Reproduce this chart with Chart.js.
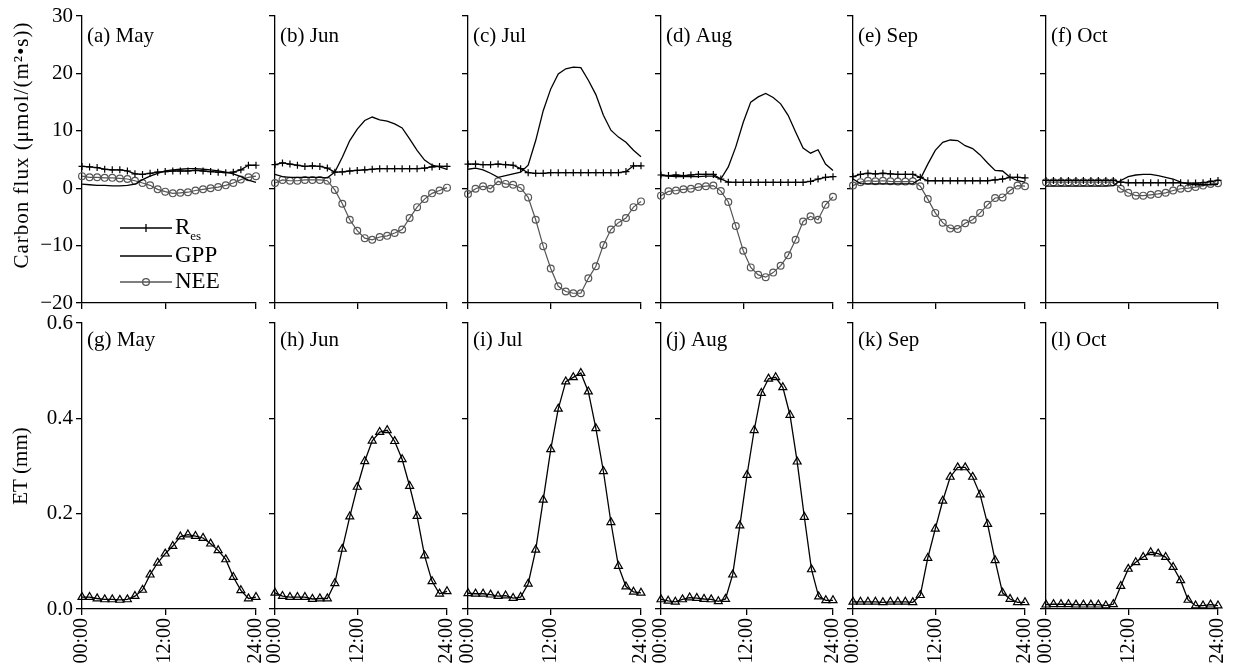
<!DOCTYPE html>
<html>
<head>
<meta charset="utf-8">
<script src="https://cdn.jsdelivr.net/npm/chart.js@4/dist/chart.umd.min.js"></script>
<style>
  html, body { margin: 0; padding: 0; background: #fff; }
  #wrap { position: relative; width: 1233px; height: 667px; overflow: hidden; }
  #wrap canvas { position: absolute; }
</style>
</head>
<body>
<div id="wrap"></div>
<script>
const FONT = "'Liberation Serif', 'Times New Roman', serif";

// x positions and axis labels
const hours24 = [0,1,2,3,4,5,6,7,8,9,10,11,12,13,14,15,16,17,18,19,20,21,22,23];
const hours25 = [0,1,2,3,4,5,6,7,8,9,10,11,12,13,14,15,16,17,18,19,20,21,22,23,24];
const timeTicks = ['00:00', '12:00', '24:00'];
const carbonTicks = [-20, -10, 0, 10, 20, 30];
const etTicks = [0, 0.2, 0.4, 0.6];
const months = ['May', 'Jun', 'Jul', 'Aug', 'Sep', 'Oct'];
const carbonLetters = ['a', 'b', 'c', 'd', 'e', 'f'];
const etLetters = ['g', 'h', 'i', 'j', 'k', 'l'];

// carbon flux, umol/(m2 s)
const resMay = [3.8,3.7,3.6,3.3,3.2,3.2,3.0,2.5,2.4,2.6,2.8,2.9,3.0,3.0,3.0,3.1,3.0,2.9,2.8,2.7,2.8,3.2,4.0,4.0];
const gppMay = [0.7,0.6,0.5,0.5,0.4,0.4,0.5,0.7,1.5,2.1,2.6,3.0,3.2,3.3,3.4,3.4,3.3,3.2,3.0,2.8,2.5,2.0,1.4,1.0];
const neeMay = [2.1,1.9,1.9,1.8,1.8,1.7,1.6,1.3,0.9,0.5,-0.2,-0.6,-0.9,-0.8,-0.7,-0.4,-0.2,0.0,0.2,0.5,0.9,1.5,1.9,2.1];

const resJun = [4.1,4.4,4.2,4.0,3.8,3.9,3.8,3.5,2.8,2.85,3.0,3.1,3.2,3.3,3.4,3.4,3.4,3.4,3.4,3.4,3.5,3.7,3.8,3.8];
const gppJun = [2.4,2.0,1.9,1.9,1.9,1.9,1.9,1.8,2.8,5.4,8.3,10.3,11.8,12.4,11.9,11.7,11.2,10.5,8.6,6.6,4.9,4.0,3.7,3.3];
const neeJun = [0.9,1.45,1.3,1.3,1.45,1.45,1.45,1.3,-0.3,-2.7,-5.5,-7.4,-8.7,-9.0,-8.5,-8.3,-7.8,-7.2,-5.2,-3.3,-1.9,-0.9,-0.4,0.1];

const resJul = [4.2,4.2,4.1,4.1,4.2,4.1,4.0,3.4,2.7,2.6,2.6,2.7,2.7,2.7,2.7,2.7,2.7,2.7,2.7,2.7,2.7,2.9,3.9,3.9];
const gppJul = [3.3,3.5,3.2,2.6,1.9,2.2,2.5,2.8,4.0,8.3,13.5,17.3,19.9,20.8,21.1,21.0,18.8,16.3,12.7,10.1,8.9,8.0,6.6,5.5];
const neeJul = [-1.0,-0.1,0.35,-0.1,1.2,0.75,0.6,0.05,-1.6,-5.5,-10.1,-14.0,-17.1,-18.0,-18.3,-18.3,-15.7,-13.6,-9.9,-7.2,-6.0,-5.2,-3.3,-2.3];

const resAug = [2.3,2.2,2.3,2.2,2.3,2.4,2.4,2.4,1.6,1.05,1.0,1.0,1.0,1.0,1.0,1.0,1.0,1.0,1.0,1.0,1.2,1.6,1.9,2.0];
const gppAug = [2.2,2.1,2.0,2.0,2.0,2.0,2.1,2.1,1.6,3.7,7.2,11.5,15.0,15.9,16.5,15.8,14.7,12.7,9.8,7.0,6.1,6.7,4.2,3.1];
const neeAug = [-1.3,-0.55,-0.4,-0.2,-0.1,0.2,0.35,0.45,-0.5,-2.4,-6.6,-10.9,-13.8,-15.1,-15.5,-14.7,-13.5,-11.7,-9.0,-5.8,-4.9,-5.5,-2.9,-1.5];

const resSep = [2.0,2.4,2.6,2.5,2.6,2.5,2.4,2.4,2.4,1.9,1.3,1.3,1.3,1.3,1.3,1.3,1.3,1.3,1.3,1.45,1.6,1.9,1.9,1.8];
const gppSep = [1.6,0.8,0.75,0.75,0.75,0.75,0.75,0.75,0.8,1.6,4.2,6.6,8.0,8.4,8.3,7.4,6.9,5.8,4.4,3.1,3.0,1.9,1.3,1.05];
const neeSep = [0.45,1.05,1.3,1.2,1.3,1.2,1.15,1.15,1.2,0.35,-1.9,-4.3,-6.0,-7.0,-7.1,-6.1,-5.5,-4.3,-2.9,-1.7,-1.6,-0.4,0.45,0.35];

const resOct = [1.35,1.35,1.35,1.35,1.35,1.35,1.35,1.35,1.35,1.35,1.05,0.95,0.95,0.95,0.95,0.95,0.95,0.95,0.95,0.9,0.9,0.95,1.15,1.35];
const gppOct = [0.35,0.35,0.35,0.35,0.35,0.35,0.35,0.35,0.35,0.45,1.35,2.0,2.3,2.4,2.4,2.2,1.9,1.6,1.05,0.75,0.6,0.6,0.6,0.65];
const neeOct = [1.05,1.05,1.05,1.05,1.05,1.05,1.05,1.05,1.05,1.05,-0.1,-0.8,-1.3,-1.3,-1.15,-1.0,-0.8,-0.4,-0.1,0.0,0.2,0.45,0.75,0.85];

// ET, mm (Aug has one point more)
const etMay = [0.025,0.025,0.022,0.02,0.02,0.019,0.02,0.027,0.04,0.072,0.097,0.116,0.132,0.152,0.156,0.153,0.149,0.137,0.123,0.104,0.067,0.039,0.022,0.025];
const etJun = [0.034,0.027,0.025,0.025,0.025,0.021,0.022,0.022,0.054,0.126,0.194,0.256,0.31,0.353,0.371,0.375,0.352,0.314,0.258,0.195,0.112,0.058,0.032,0.037];
const etJul = [0.033,0.032,0.032,0.03,0.027,0.028,0.023,0.025,0.053,0.124,0.229,0.335,0.42,0.477,0.486,0.495,0.456,0.379,0.289,0.182,0.09,0.047,0.036,0.034];
const etAug = [0.02,0.017,0.015,0.02,0.024,0.023,0.021,0.02,0.016,0.021,0.072,0.175,0.281,0.375,0.453,0.483,0.486,0.465,0.407,0.309,0.193,0.083,0.026,0.018,0.018];
const etSep = [0.015,0.015,0.015,0.015,0.014,0.015,0.015,0.015,0.014,0.029,0.107,0.168,0.227,0.277,0.297,0.297,0.277,0.24,0.178,0.102,0.034,0.021,0.014,0.014];
const etOct = [0.009,0.01,0.01,0.01,0.009,0.009,0.009,0.009,0.007,0.01,0.048,0.084,0.098,0.109,0.119,0.116,0.109,0.088,0.06,0.019,0.007,0.007,0.009,0.007];

const resSeries = [resMay, resJun, resJul, resAug, resSep, resOct];
const gppSeries = [gppMay, gppJun, gppJul, gppAug, gppSep, gppOct];
const neeSeries = [neeMay, neeJun, neeJul, neeAug, neeSep, neeOct];
const etSeries = [etMay, etJun, etJul, etAug, etSep, etOct];

// panel placement (pixels)
const axisLeft = [82, 275, 468, 661, 853, 1046];
const axisRight = [256, 447, 641, 833, 1025, 1218];

const panelText = {
  id: 'panelText',
  afterDraw(chart, args, opts) {
    const { ctx, chartArea } = chart;
    ctx.save();
    ctx.fillStyle = '#000';
    ctx.font = '21px ' + FONT;
    ctx.textBaseline = 'middle';
    ctx.fillText(opts.text, chartArea.left + 5, chartArea.top + opts.dy);

    if (opts.yTitle) {
      // drawn here so it can sit a little above the axis centre, as in the figure
      ctx.save();
      ctx.translate(22, 145);
      ctx.rotate(-Math.PI / 2);
      ctx.textAlign = 'center';
      ctx.letterSpacing = '1px';
      ctx.fillText(opts.yTitle, 0, 0);
      ctx.restore();
    }

    if (opts.legend) {
      const x0 = chartArea.left + 38, x1 = chartArea.left + 90, xm = (x0 + x1) / 2;
      const rows = [chartArea.top + 212, chartArea.top + 240, chartArea.top + 266];
      ctx.lineWidth = 1.3;
      ctx.strokeStyle = '#000';
      ctx.beginPath(); ctx.moveTo(x0, rows[0]); ctx.lineTo(x1, rows[0]); ctx.stroke();
      ctx.beginPath(); ctx.moveTo(xm, rows[0] - 4); ctx.lineTo(xm, rows[0] + 4); ctx.stroke();
      ctx.beginPath(); ctx.moveTo(x0, rows[1]); ctx.lineTo(x1, rows[1]); ctx.stroke();
      ctx.strokeStyle = '#555';
      ctx.beginPath(); ctx.moveTo(x0, rows[2]); ctx.lineTo(x1, rows[2]); ctx.stroke();
      ctx.beginPath(); ctx.arc(xm, rows[2], 3.4, 0, Math.PI * 2); ctx.stroke();

      const tx = x1 + 3;
      ctx.font = '23px ' + FONT;
      ctx.fillText('R', tx, rows[0]);
      const rw = ctx.measureText('R').width;
      ctx.font = '13px ' + FONT;
      ctx.fillText('es', tx + rw, rows[0] + 9);
      ctx.font = '23px ' + FONT;
      ctx.fillText('GPP', tx, rows[1]);
      ctx.fillText('NEE', tx, rows[2]);
    }
    ctx.restore();
  }
};

function makePanel(col, row) {
  const isTop = row === 0;
  const n = isTop ? resSeries[col].length : etSeries[col].length;
  const labels = n === 25 ? hours25 : hours24;
  const tickIdx = n === 25 ? [0, 12, 24] : [0, 11, 23];

  const yw = col === 0 ? 82 : 8;
  const padL = col === 0 ? 0 : 12;
  const padR = 14;
  const left = axisLeft[col] - yw - padL;
  const width = axisRight[col] + padR - left;
  const top = isTop ? 0 : 300;
  const areaTop = isTop ? 16 : 323;
  const areaBottom = isTop ? 303 : 609;
  const xh = isTop ? 12 : 58;
  const height = areaBottom + xh - top;

  const canvas = document.createElement('canvas');
  canvas.width = width;
  canvas.height = height;
  canvas.style.left = left + 'px';
  canvas.style.top = top + 'px';
  document.getElementById('wrap').appendChild(canvas);

  let datasets;
  if (isTop) {
    datasets = [
      { label: 'Res', data: resSeries[col], borderColor: '#000', borderWidth: 1.3,
        pointStyle: 'cross', pointRadius: 3.5, pointBorderColor: '#000', pointBorderWidth: 1.2 },
      { label: 'GPP', data: gppSeries[col], borderColor: '#000', borderWidth: 1.3, pointRadius: 0 },
      { label: 'NEE', data: neeSeries[col], borderColor: '#555', borderWidth: 1.2,
        pointStyle: 'circle', pointRadius: 3.4, pointBorderColor: '#555',
        pointBackgroundColor: 'rgba(0,0,0,0)', pointBorderWidth: 1.2 }
    ];
  } else {
    datasets = [
      { label: 'ET', data: etSeries[col], borderColor: '#000', borderWidth: 1.3,
        pointStyle: 'triangle', pointRadius: 4.6, pointBorderColor: '#000',
        pointBackgroundColor: 'rgba(0,0,0,0)', pointBorderWidth: 1.2 }
    ];
  }
  datasets.forEach(d => { d.clip = false; d.tension = 0; d.fill = false; });

  const yTicks = isTop ? carbonTicks : etTicks;

  new Chart(canvas, {
    type: 'line',
    data: { labels: labels, datasets: datasets },
    plugins: [panelText],
    options: {
      responsive: false,
      animation: false,
      events: [],
      layout: { padding: { left: padL, right: padR, top: areaTop - top, bottom: 0 } },
      plugins: {
        legend: { display: false },
        tooltip: { enabled: false },
        panelText: {
          text: '(' + (isTop ? carbonLetters[col] : etLetters[col]) + ') ' + months[col],
          dy: isTop ? 20 : 17,
          legend: isTop && col === 0,
          yTitle: isTop && col === 0 ? 'Carbon flux (μmol/(m²•s))' : null
        }
      },
      scales: {
        x: {
          type: 'linear',
          min: 0,
          max: n - 1,
          afterBuildTicks: s => { s.ticks = tickIdx.map(v => ({ value: v })); },
          afterFit: s => { s.height = xh; s.paddingLeft = 0; s.paddingRight = 0; },
          grid: { drawOnChartArea: false, drawTicks: true, tickLength: 6, color: '#000', lineWidth: 1.3 },
          border: { color: '#000', width: 1.3 },
          ticks: {
            autoSkip: false, minRotation: 90, maxRotation: 90, padding: 3,
            color: '#000', font: { family: FONT, size: 20 },
            callback: v => isTop ? '' : timeTicks[tickIdx.indexOf(v)]
          }
        },
        y: {
          min: yTicks[0],
          max: yTicks[yTicks.length - 1],
          afterBuildTicks: s => { s.ticks = yTicks.map(v => ({ value: v })); },
          afterFit: s => { s.width = yw; s.paddingTop = 0; s.paddingBottom = 0; },
          grid: { drawOnChartArea: false, drawTicks: true, tickLength: 6, color: '#000', lineWidth: 1.3 },
          border: { color: '#000', width: 1.3 },
          title: {
            display: col === 0 && !isTop,
            text: 'ET (mm)',
            color: '#000',
            font: { family: FONT, size: 21 },
            padding: { top: 9, bottom: 0 }
          },
          ticks: {
            padding: 3, color: '#000', font: { family: FONT, size: 21 },
            callback: v => {
              if (col !== 0) return '';
              return isTop ? String(v).replace('-', '−') : v.toFixed(1);
            }
          }
        }
      }
    }
  });
}

for (let row = 0; row < 2; row++) {
  for (let col = 0; col < 6; col++) {
    makePanel(col, row);
  }
}
</script>
</body>
</html>
